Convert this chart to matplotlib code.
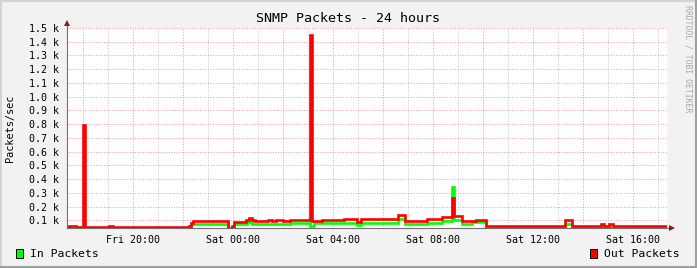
import matplotlib
matplotlib.use("Agg")
import matplotlib.pyplot as plt
from matplotlib.lines import Line2D
from matplotlib.patches import Rectangle
import numpy as np

# ---- data (hours relative to Sat 00:00, packets/sec) ----
t_start = -6.64
t_end_data = 17.31
t_end_axis = 17.36

out_hours = [-6.64, -6.56, -6.28, -6.00, -5.92, -4.96, -4.80, -1.76, -1.68, -1.60,
             -0.18, -0.04, 0.04, 0.54, 0.64, 0.76, 0.88, 1.40, 1.56, 1.72,
             2.00, 2.28, 3.08, 3.16, 3.56, 4.44, 4.96, 5.12, 6.60, 6.88,
             7.76, 8.36, 8.76, 8.84, 9.16, 9.72, 10.12, 13.28, 13.56, 14.72,
             14.84, 15.04, 15.20]
out_values = [52, 57, 49, 795, 52, 60, 52, 62, 80, 92,
              45, 62, 85, 100, 120, 100, 92, 100, 92, 100,
              95, 100, 1450, 96, 99, 108, 89, 107, 140, 98,
              110, 122, 261, 133, 98, 106, 58, 100, 60, 72,
              60, 72, 60]

in_hours = [-6.64, -1.76, -1.68, -1.60, -0.18, -0.04, 0.04, 0.56, 0.76, 2.28,
            3.08, 3.24, 4.44, 4.96, 5.12, 6.60, 6.88, 7.76, 8.36, 8.76,
            8.84, 9.16, 9.56, 10.12, 13.28, 13.56, 15.64, 15.96]
in_values = [45, 55, 70, 76, 40, 55, 70, 85, 70, 79,
             62, 79, 82, 63, 82, 107, 76, 80, 92, 346,
             103, 70, 89, 49, 74, 50, 44, 50]

x_tick_hours = [-4, 0, 4, 8, 12, 16]
x_tick_labels = ["Fri 20:00", "Sat 00:00", "Sat 04:00", "Sat 08:00", "Sat 12:00", "Sat 16:00"]
y_tick_values = [100, 200, 300, 400, 500, 600, 700, 800, 900, 1000, 1100, 1200, 1300, 1400, 1500]
y_tick_labels = ["0.1 k", "0.2 k", "0.3 k", "0.4 k", "0.5 k", "0.6 k", "0.7 k", "0.8 k",
                 "0.9 k", "1.0 k", "1.1 k", "1.2 k", "1.3 k", "1.4 k", "1.5 k"]
major_grid_hours = [-6, -4, -2, 0, 2, 4, 6, 8, 10, 12, 14, 16]
minor_grid_hours = [-5, -3, -1, 1, 3, 5, 7, 9, 11, 13, 15, 17]

W, H = 697, 268
fig = plt.figure(figsize=(W / 100, H / 100), dpi=100)
fig.patch.set_facecolor("#f2f2f2")
mono = "DejaVu Sans Mono"

ax = fig.add_axes([67 / W, (H - 228.3) / H, 600 / W, 200.3 / H])
ax.set_facecolor("white")
ax.set_xlim(t_start, t_end_axis)
ax.set_ylim(42, 1500)

# grid
for h in minor_grid_hours:
    ax.axvline(h, color="#c8c8c8", lw=0.72, ls=(0, (1, 1.6)), zorder=1)
for h in major_grid_hours:
    ax.axvline(h, color="#f39a9a", lw=0.72, ls=(0, (1, 1.6)), zorder=1)
for v in y_tick_values:
    ax.axhline(v, color="#f39a9a", lw=0.72, ls=(0, (1, 1.6)), zorder=1)

# series
ih = list(in_hours) + [t_end_data]
iv = list(in_values) + [in_values[-1]]
oh = list(out_hours) + [t_end_data]
ov = list(out_values) + [out_values[-1]]
ax.step(ih, iv, where="post", color="#00ff00", lw=1.9, zorder=3, solid_joinstyle="miter")
ax.step(oh, ov, where="post", color="#ff0000", lw=1.9, zorder=4, solid_joinstyle="miter")

for s in ax.spines.values():
    s.set_visible(False)

# axes lines with arrows
ax.plot([0, 0], [0, 1 + 5 / 200.3], transform=ax.transAxes, color="#707070", lw=0.8,
        clip_on=False, zorder=5)
ax.plot([0, 1 + 5 / 600], [0, 0], transform=ax.transAxes, color="#707070", lw=0.8,
        clip_on=False, zorder=5)
ax.plot([0], [1 + 4.5 / 200.3], transform=ax.transAxes, marker="^", ms=4.2,
        color="#8b1a1a", clip_on=False, zorder=6, mew=0)
ax.plot([1 + 5 / 600], [0], transform=ax.transAxes, marker=">", ms=4.2,
        color="#8b1a1a", clip_on=False, zorder=6, mew=0)

ax.set_xticks(x_tick_hours)
ax.set_xticklabels(x_tick_labels, fontfamily=mono, fontsize=7.2)
ax.set_yticks(y_tick_values)
ax.set_yticklabels(y_tick_labels, fontfamily=mono, fontsize=7.2)
ax.tick_params(axis="x", length=0, pad=5)
ax.tick_params(axis="y", length=0, pad=6)

ax.set_ylabel("Packets/sec", fontfamily=mono, fontsize=7.4, labelpad=8)
ax.yaxis.set_label_coords(-52 / 600, 0.5)

fig.text(348 / W, 1 - 18.5 / H, "SNMP Packets - 24 hours", ha="center", va="center",
         fontfamily=mono, fontsize=9.6)
fig.text(688 / W, 1 - 59 / H, "RRDTOOL / TOBI OETIKER", ha="center", va="center",
         rotation=270, fontfamily=mono, fontsize=5.9, color="#a8a8a8")

# legend
fig.add_artist(Rectangle((16 / W, 1 - 258 / H), 7 / W, 9 / H, facecolor="#00ff00",
                         edgecolor="black", lw=0.7, transform=fig.transFigure))
fig.text(30 / W, 1 - 254 / H, "In Packets", ha="left", va="center",
         fontfamily=mono, fontsize=8.2)
fig.add_artist(Rectangle((590 / W, 1 - 258 / H), 7 / W, 9 / H, facecolor="#ff0000",
                         edgecolor="black", lw=0.7, transform=fig.transFigure))
fig.text(604 / W, 1 - 254 / H, "Out Packets", ha="left", va="center",
         fontfamily=mono, fontsize=8.2)

# frame shading
def fline(x0, y0, x1, y1, c):
    fig.add_artist(Line2D([x0 / W, x1 / W], [1 - y0 / H, 1 - y1 / H], color=c, lw=1.5,
                          transform=fig.transFigure))
fline(0, 0.5, W, 0.5, "#d4d4d4")
fline(0.5, 0, 0.5, H, "#d4d4d4")
fline(0, H - 1, W, H - 1, "#a0a0a0")
fline(W - 1, 0, W - 1, H, "#a0a0a0")

fig.savefig("out.png", dpi=100, facecolor=fig.get_facecolor())
